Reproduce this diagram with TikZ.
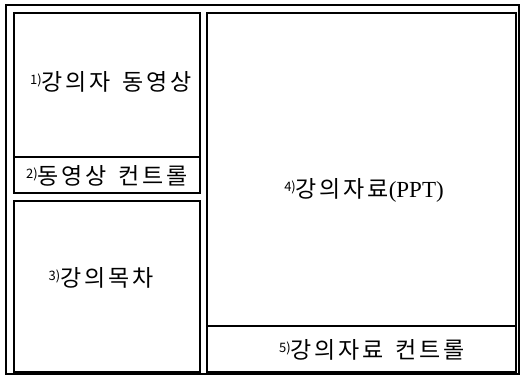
\documentclass[tikz,border=0pt]{standalone}
\usepackage{fontspec}
\newfontfamily\kr[LetterSpace=12]{Noto Sans CJK KR}
\newfontfamily\krsup{Noto Sans CJK KR}
\newfontfamily\lat{Liberation Serif}
\newcommand{\numsup}[1]{\raisebox{6pt}{\krsup\fontsize{13}{13}\selectfont #1)}}
\newcommand{\wsp}{\hspace{12pt}}
\begin{document}
\begin{tikzpicture}[x=1pt,y=-1pt,
  outerbox/.style={draw=black,line width=1.4pt},
  panel/.style={draw=black,line width=1.3pt},
  lbl/.style={font=\kr\fontsize{23}{23}\selectfont,inner sep=0pt,anchor=center}]
\useasboundingbox (0,0) rectangle (521,376);
\fill[white] (0,0) rectangle (521,376);
\draw[outerbox] (6,5) rectangle (519,374);
\draw[panel] (14,13) rectangle (200,157);
\draw[panel] (14,157) rectangle (200,193);
\draw[panel] (14,201) rectangle (200,372);
\draw[panel] (207,13) rectangle (516,326);
\draw[panel] (207,326) rectangle (516,372);
\node[lbl] (t1) at (111,82) {\numsup{1}강의자\wsp 동영상};
\node[lbl] (t2) at (107,176) {\numsup{2}동영상\wsp 컨트롤};
\node[lbl] (t3) at (101,278) {\numsup{3}강의목차};
\node[lbl] (t4) at (364,190) {\numsup{4}강의자료{\lat\fontsize{23}{23}\selectfont (PPT)}};
\node[lbl] (t5) at (372,350) {\numsup{5}강의자료\wsp 컨트롤};
\end{tikzpicture}
\end{document}
